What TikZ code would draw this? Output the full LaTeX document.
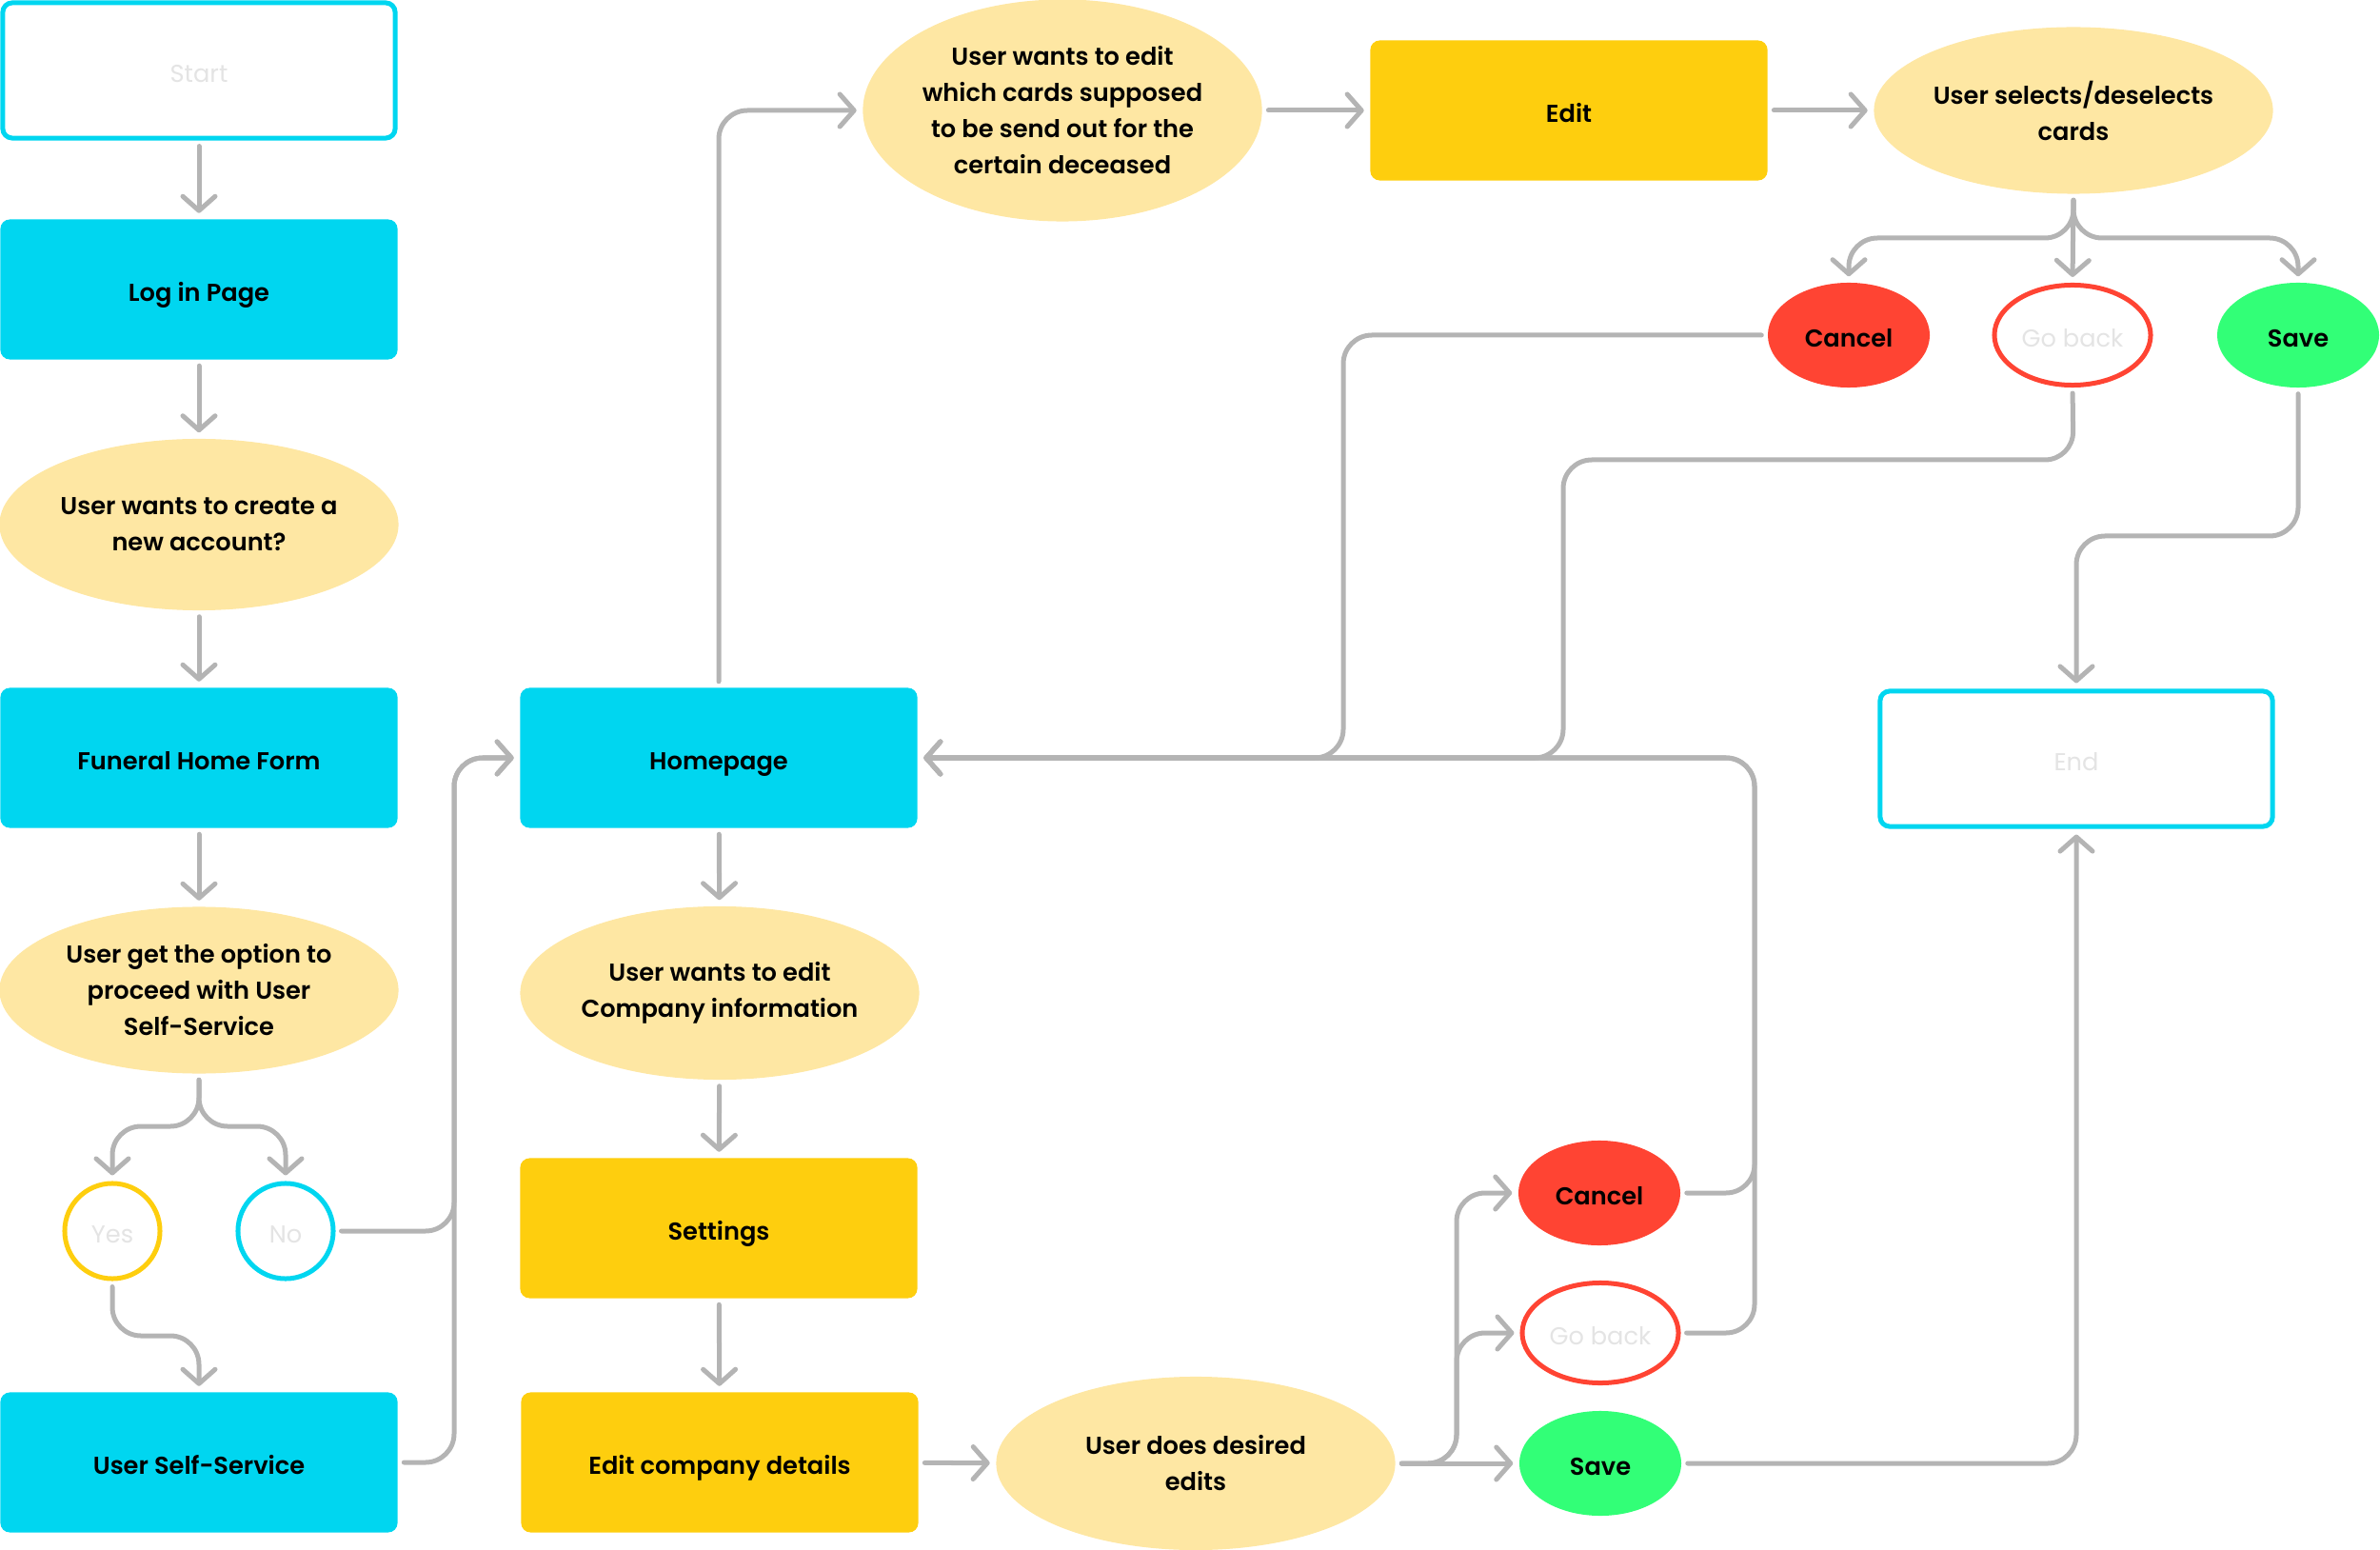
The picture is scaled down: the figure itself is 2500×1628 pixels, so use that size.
\documentclass[tikz,border=0pt]{standalone}
\usepackage{fontspec}
\setmainfont{Poppins}[BoldFont={Poppins SemiBold}]
\usetikzlibrary{arrows.meta, shapes.geometric}
\definecolor{fcyan}{RGB}{0,214,240}
\definecolor{fgold}{RGB}{254,206,14}
\definecolor{fpale}{RGB}{254,231,163}
\definecolor{fred}{RGB}{255,68,51}
\definecolor{fgreen}{RGB}{50,255,119}
\definecolor{fline}{RGB}{180,180,180}
\definecolor{fghost}{RGB}{228,228,228}

\begin{document}
\begin{tikzpicture}[x=0.01cm, y=-0.01cm,
  every node/.style={font=\fontsize{7.3}{10.8}\selectfont\bfseries, align=center, inner sep=0pt},
  oneline/.style={text height=0.72em, text depth=0pt},
  bluebox/.style={oneline, fill=fcyan, rounded corners=0.1cm, minimum width=4.17cm, minimum height=1.47cm},
  goldbox/.style={oneline, fill=fgold, rounded corners=0.1cm, minimum width=4.17cm, minimum height=1.47cm},
  framebox/.style={oneline, draw=fcyan, line width=0.05cm, fill=white, rounded corners=0.1cm,
                   minimum width=4.12cm, minimum height=1.42cm, text=fghost, font=\fontsize{7.3}{10.8}\selectfont},
  bubble/.style={ellipse, fill=fpale, minimum width=4.19cm, minimum height=1.8cm},
  choice/.style={oneline, circle, draw, line width=0.05cm, fill=white, minimum size=1.0cm,
                 text=fghost, font=\fontsize{7.3}{10.8}\selectfont},
  pill/.style={oneline, ellipse, minimum width=1.7cm, minimum height=1.1cm},
  conn/.style={draw=fline, line width=0.05cm, line cap=round, rounded corners=0.3cm,
               -{Straight Barb[length=0.15cm, width=0.34cm, round]},
               shorten >=0.06cm, shorten <=0.06cm},
]
\useasboundingbox (0,0) rectangle (2500,1628);

\node[framebox] (start) at (209,74) {Start};
\node[bluebox] (login) at (209,304) {Log in Page};
\node[bubble] (newacct) at (209,551) {User wants to create a\\new account?};
\node[bluebox] (funeral) at (209,796) {Funeral Home Form};
\node[bubble, minimum height=1.75cm] (option) at (209,1040) {User get the option to\\proceed with User\\Self-Service};
\node[choice, draw=fgold] (yes) at (118,1293) {Yes};
\node[choice, draw=fcyan] (no) at (300,1293) {No};
\node[bluebox] (selfserv) at (209,1536) {User Self-Service};

\node[bluebox] (home) at (755,796) {Homepage};
\node[bubble, minimum height=1.82cm] (company) at (756,1043) {User wants to edit\\Company information};
\node[goldbox] (settings) at (755,1290) {Settings};
\node[goldbox] (editco) at (756,1536) {Edit company details};
\node[bubble, minimum height=1.82cm] (edits) at (1256,1537) {User does desired\\edits};
\node[pill, fill=fred] (cancelb) at (1680,1253) {Cancel};
\node[pill, draw=fred, line width=0.05cm, fill=white, text=fghost,
      font=\fontsize{7.3}{10.8}\selectfont, minimum width=1.64cm, minimum height=1.05cm] (gobackb) at (1681,1400) {Go back};
\node[pill, fill=fgreen] (saveb) at (1681,1537) {Save};

\node[bubble, minimum height=2.33cm] (cards) at (1116,116) {User wants to edit\\which cards supposed\\to be send out for the\\certain deceased};
\node[goldbox] (edit) at (1648,116) {Edit};
\node[bubble, minimum height=1.75cm] (select) at (2178,116) {User selects/deselects\\cards};
\node[pill, fill=fred] (cancelt) at (1942,352) {Cancel};
\node[pill, draw=fred, line width=0.05cm, fill=white, text=fghost,
      font=\fontsize{7.3}{10.8}\selectfont, minimum width=1.64cm, minimum height=1.05cm] (gobackt) at (2177,352) {Go back};
\node[pill, fill=fgreen] (savet) at (2414,352) {Save};
\node[framebox] (finish) at (2181,797) {End};

\draw[conn] (start) -- (login);
\draw[conn] (login) -- (newacct);
\draw[conn] (newacct) -- (funeral);
\draw[conn] (funeral) -- (option);
\draw[conn] (option.south) -- (209,1183) -| (yes.north);
\draw[conn] (option.south) -- (209,1183) -| (no.north);
\draw[conn] (yes.south) -- (118,1403) -| (selfserv.north);
\draw[conn] (no.east) -- (477,1293) |- (home.west);
\draw[conn] (selfserv.east) -- (477,1536) |- (home.west);

\draw[conn] (home.north) |- (cards.west);
\draw[conn] (cards) -- (edit);
\draw[conn] (edit) -- (select);
\draw[conn] (select.south) -- (2178,250) -| (cancelt.north);
\draw[conn] (select.south) -- (gobackt.north);
\draw[conn] (select.south) -- (2178,250) -| (savet.north);
\draw[conn] (cancelt.west) -- (1411,352) |- (home.east);
\draw[conn] (gobackt.south) -- (2178,483) -- (1642,483) |- (home.east);
\draw[conn] (savet.south) -- (2414,563) -- (2181,563) -- (finish.north);

\draw[conn] (home) -- (company);
\draw[conn] (company) -- (settings);
\draw[conn] (settings) -- (editco);
\draw[conn] (editco) -- (edits);
\draw[conn] (edits.east) -- (saveb.west);
\draw[conn] (edits.east) -- (1530,1537) |- (gobackb.west);
\draw[conn] (edits.east) -- (1530,1537) |- (cancelb.west);
\draw[conn] (cancelb.east) -- (1843,1253) |- (home.east);
\draw[conn] (gobackb.east) -- (1843,1400) |- (home.east);
\draw[conn] (saveb.east) -| (finish.south);
\end{tikzpicture}
\end{document}
